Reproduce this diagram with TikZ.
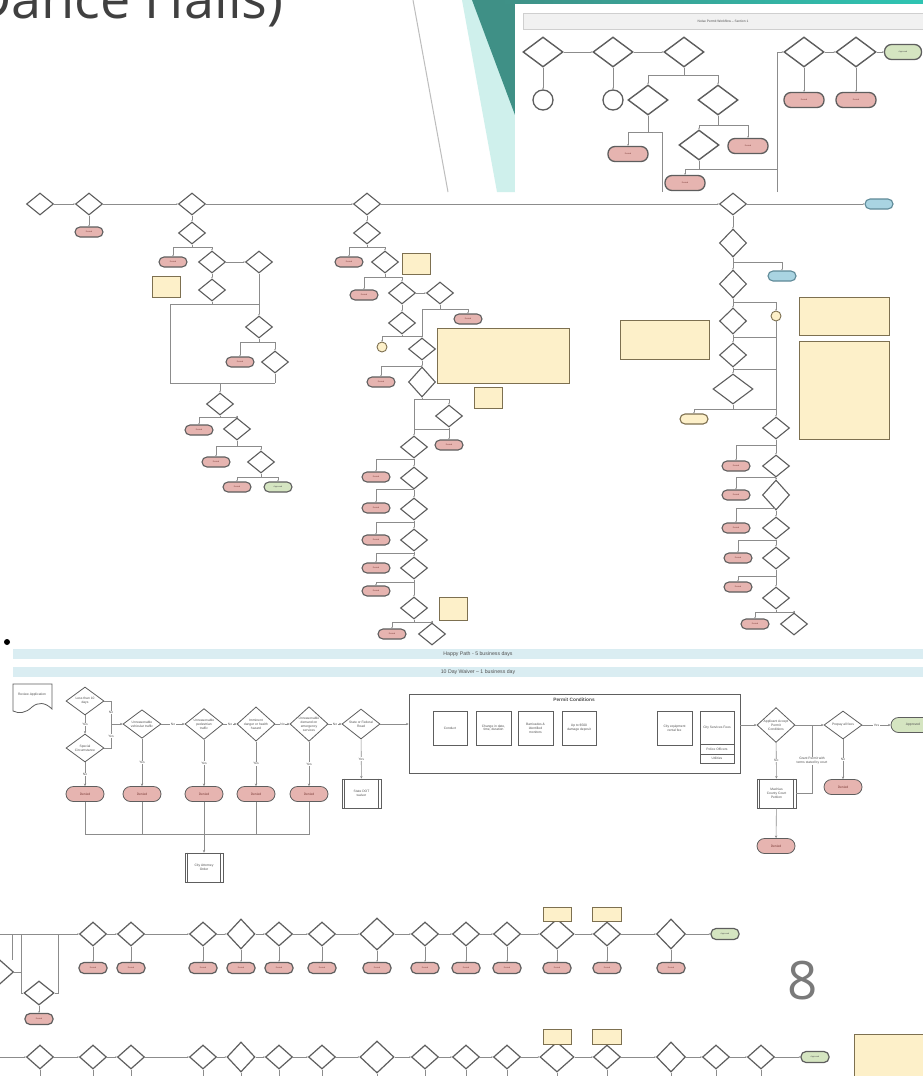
\documentclass[tikz,border=0pt]{standalone}
\usepackage{fontspec}
\setmainfont{Liberation Sans}
\newfontfamily\titlefont{Open Sans}
\usetikzlibrary{shapes.geometric,arrows.meta}
\definecolor{tealA}{HTML}{3F9086}
\definecolor{tealB}{HTML}{2EC4B2}
\definecolor{cyanl}{HTML}{CFF0EC}
\definecolor{grayl}{HTML}{BDBDBD}
\definecolor{linec}{HTML}{8C8C8C}
\definecolor{shapec}{HTML}{5E5E5E}
\definecolor{denf}{HTML}{E6B4B0}
\definecolor{dent}{HTML}{7A3A36}
\definecolor{appf}{HTML}{D5E5C1}
\definecolor{bluef}{HTML}{A9D4E2}
\definecolor{bluec}{HTML}{5F8A98}
\definecolor{notef}{HTML}{FDF0C9}
\definecolor{notec}{HTML}{7D7050}
\definecolor{barf}{HTML}{DAEDF2}
\definecolor{hdrf}{HTML}{F1F1F1}
\definecolor{hdrc}{HTML}{CFCFCF}
\definecolor{titlec}{HTML}{404040}
\definecolor{txtc}{HTML}{505050}
\definecolor{pagec}{HTML}{7A7A7A}
\newcommand\fzA{\fontsize{2}{2.4}\selectfont}
\newcommand\fzB{\fontsize{3.3}{3.9}\selectfont}
\newcommand\fzC{\fontsize{5.2}{6}\selectfont}
\tikzset{
  conn/.style={draw=linec, line width=0.6pt},
  arr/.style={conn, -{Stealth[length=2.6pt,width=2.4pt]}},
  tarr/.style={conn, -{Stealth[length=1.6pt,width=1.5pt]}},
  sdia/.style={diamond, draw=shapec, fill=white, line width=1.4pt, minimum width=40pt, minimum height=30pt, inner sep=0pt},
  sden/.style={rectangle, rounded corners=7pt, draw=shapec, fill=denf, line width=1.3pt, minimum width=40pt, minimum height=15pt, inner sep=0pt, font=\fzA, text=dent},
  sapp/.style={sden, fill=appf, text=txtc},
  scirc/.style={circle, draw=shapec, fill=white, line width=1.3pt, minimum size=20pt, inner sep=0pt, font=\fzA, text=txtc},
  adia/.style={diamond, draw=shapec, fill=white, line width=1.1pt, minimum width=27pt, minimum height=22pt, inner sep=0pt},
  aden/.style={rectangle, rounded corners=5pt, draw=shapec, fill=denf, line width=1.1pt, minimum width=28pt, minimum height=10pt, inner sep=0pt, font=\fzA, text=dent},
  aapp/.style={aden, fill=appf, text=txtc},
  ablue/.style={aden, fill=bluef, draw=bluec, text=txtc},
  ayel/.style={aden, fill=notef, draw=notec, text=txtc},
  anote/.style={rectangle, draw=notec, fill=notef, line width=1pt, inner sep=0pt},
  acirc/.style={circle, draw=notec, fill=notef, line width=0.9pt, minimum size=10pt, inner sep=0pt},
  fdia/.style={diamond, draw=shapec, fill=white, line width=0.8pt, minimum width=38pt, minimum height=28pt, inner sep=0pt, font=\fzB, text=txtc, align=center},
  fden/.style={rectangle, rounded corners=7.5pt, draw=shapec, fill=denf, line width=0.8pt, minimum width=38pt, minimum height=15pt, inner sep=0pt, font=\fzB, text=dent},
  fapp/.style={fden, fill=appf, text=txtc},
  fbox/.style={rectangle, draw=shapec, fill=white, line width=0.8pt, inner sep=0pt, font=\fzB, text=txtc, align=center},
  lbl/.style={fill=white, inner sep=0.6pt, font=\fzB, text=txtc, align=center},
  cdia/.style={diamond, draw=shapec, fill=white, line width=1.2pt, minimum width=27pt, minimum height=24pt, inner sep=0pt},
  cden/.style={rectangle, rounded corners=5pt, draw=shapec, fill=denf, line width=1.2pt, minimum width=28pt, minimum height=11pt, inner sep=0pt, font=\fzA, text=dent},
  capp/.style={cden, fill=appf, text=txtc},
}
\begin{document}
\begin{tikzpicture}[x=1pt,y=-1pt]
\useasboundingbox (0,0) rectangle (923,1076);
\clip (0,0) rectangle (923,1076);
\fill[white] (0,0) rectangle (923,1076);

% ---------- title and slide decoration ----------
\node[anchor=base west, inner sep=0pt, font=\titlefont\fontsize{54}{60}\selectfont, text=titlec] (title) at (-28,18) {Dance Halls)};
\draw[grayl, line width=1pt] (413,0) -- (448,192);
\fill[cyanl] (462,0) -- (515,0) -- (515,192) -- (497,192) -- cycle;
\fill[tealA] (472,0) -- (515,0) -- (515,115) -- cycle;
\shade[left color=tealA, right color=tealB] (500,0) rectangle (923,3.5);
\fill[white] (515,3.5) rectangle (923,192);

% ---------- screenshot (top right) ----------
\node[draw=hdrc, fill=hdrf, line width=0.8pt, minimum width=400pt, minimum height=16pt, inner sep=0pt, font=\fzB, text=txtc] (shdr) at (723,21) {Noise Permit Workflow -- Section 1};
\node[sdia] (s1) at (543,52) {};
\node[sdia] (s2) at (613,52) {};
\node[sdia] (s3) at (684,52) {};
\node[sdia] (s4) at (804,52) {};
\node[sdia] (s5) at (856,52) {};
\node[sapp, minimum width=37pt] (sapv) at (903,52) {Approved};
\node[scirc] (sc1) at (543,100) {};
\node[scirc] (sc2) at (613,100) {};
\node[sdia] (s6) at (648,100) {};
\node[sdia] (s7) at (718,100) {};
\node[sden] (sd1) at (628,154) {Denied};
\node[sdia] (s8) at (699,145) {};
\node[sden] (sd2) at (748,146) {Denied};
\node[sden] (sd3) at (685,183) {Denied};
\node[sden] (sd4) at (804,100) {Denied};
\node[sden] (sd5) at (856,100) {Denied};
\coordinate (sb1) at (662,192);
\coordinate (sb2) at (777,192);
\draw[tarr] (s1) -- (s2);
\draw[tarr] (s2) -- (s3);
\draw[tarr] (s1) -- (sc1);
\draw[tarr] (s2) -- (sc2);
\draw[tarr] (s3.south) -- (684,75) -| (s6.north);
\draw[tarr] (684,75) -| (s7.north);
\draw[tarr] (s6.south) -- (648,132) -| (sd1.north);
\draw[conn] (648,132) -| (sb1);
\draw[tarr] (s7.south) -- (718,125) -| (s8.north);
\draw[tarr] (718,125) -| (sd2.north);
\draw[tarr] (s8.south) -- (699,169) -| (sd3.north);
\draw[conn] (699,169) -- (777,169);
\draw[tarr] (sb2) -- (777,52) -- (s4.west);
\draw[tarr] (s4) -- (s5);
\draw[tarr] (s5) -- (sapv);
\draw[tarr] (s4) -- (sd4);
\draw[tarr] (s5) -- (sd5);

% ---------- flowchart 1 ----------
\node[adia] (a1) at (40,204) {};
\node[adia] (a2) at (89,204) {};
\node[adia] (a3) at (192,204) {};
\node[adia] (a4) at (367,204) {};
\node[adia] (a5) at (733,204) {};
\node[ablue] (aend) at (879,204) {};
\node[aden] (a2d) at (89,232) {Denied};
\draw[tarr] (a1) -- (a2);
\draw[tarr] (a2) -- (a3);
\draw[tarr] (a3) -- (a4);
\draw[tarr] (a4) -- (a5);
\draw[tarr] (a5) -- (aend);
\draw[tarr] (a2) -- (a2d);

% column under a3
\node[adia] (b1) at (192,233) {};
\node[aden] (b1d) at (173,262) {Denied};
\node[adia] (b2) at (212,262) {};
\node[adia] (b3) at (259,262) {};
\node[anote, minimum width=28pt, minimum height=21pt] (bnote) at (166,287) {};
\node[adia] (b4) at (212,290) {};
\node[adia] (b5) at (259,327) {};
\node[aden] (b5d) at (240,362) {Denied};
\node[adia] (b6) at (275,362) {};
\node[adia] (b7) at (220,404) {};
\node[aden] (b7d) at (199,430) {Denied};
\node[adia] (b8) at (237,429) {};
\node[aden] (b8d) at (216,462) {Denied};
\node[adia] (b9) at (261,462) {};
\node[aden] (b9d) at (237,487) {Denied};
\node[aapp] (bapp) at (278,487) {Approved};
\coordinate (bj1) at (170,304);
\coordinate (bj2) at (170,383);
\draw[tarr] (a3) -- (b1);
\draw[tarr] (b1.south) -- (192,247) -| (b1d.north);
\draw[tarr] (192,247) -| (b2.north);
\draw[tarr] (b2) -- (b3);
\draw[tarr] (b2) -- (b4);
\draw[conn] (b4.south) -- (212,304);
\draw[conn] (bj1) -- (259,304);
\draw[tarr] (b3) -- (b5);
\draw[conn] (bj1) -- (bj2) -- (275,383);
\draw[conn] (b6.south) -- (275,383);
\draw[tarr] (220,383) -- (b7.north);
\draw[tarr] (b5.south) -- (259,342) -| (b5d.north);
\draw[tarr] (259,342) -| (b6.north);
\draw[tarr] (b7.south) -- (220,417) -| (b7d.north);
\draw[tarr] (220,417) -| (b8.north);
\draw[tarr] (b8.south) -- (237,446) -| (b8d.north);
\draw[tarr] (237,446) -| (b9.north);
\draw[tarr] (b9.south) -- (261,477) -| (b9d.north);
\draw[tarr] (261,477) -| (bapp.north);

% column under a4
\node[adia] (c1) at (367,233) {};
\node[aden] (c1d) at (349,262) {Denied};
\node[adia] (c2) at (385,262) {};
\node[anote, minimum width=28pt, minimum height=21pt] (cnote) at (416,264) {};
\node[aden] (c3d) at (364,295) {Denied};
\node[adia] (c3) at (402,293) {};
\node[adia] (c4) at (440,293) {};
\node[aden] (c4d) at (468,319) {Denied};
\node[adia] (c5) at (402,323) {};
\node[acirc] (ccirc) at (382,347) {};
\node[adia] (c6) at (422,349) {};
\node[aden] (c7d) at (381,382) {Denied};
\node[adia, minimum height=30pt] (c7) at (422,382) {};
\node[anote, minimum width=132pt, minimum height=55pt] (cbig) at (503,355.5) {};
\node[anote, minimum width=28pt, minimum height=21pt] (csmall) at (488,397.5) {};
\node[adia] (c8) at (449,416) {};
\node[aden] (c8d) at (449,445) {Denied};
\node[anote, minimum width=28pt, minimum height=23pt] (cnote3) at (453,608.5) {};
\draw[tarr] (a4) -- (c1);
\draw[tarr] (c1.south) -- (367,247) -| (c1d.north);
\draw[tarr] (367,247) -| (c2.north);
\draw[tarr] (c2.south) -- (385,277) -| (c3d.north);
\draw[tarr] (385,277) -| (c3.north);
\draw[tarr] (c3) -- (c4);
\draw[tarr] (c4.south) -- (440,309) -| (c4d.north);
\draw[conn] (440,309) -- (422,309) -- (422,336);
\draw[tarr] (c3) -- (c5);
\draw[tarr] (c5.south) -- (402,336) -| (ccirc.north);
\draw[tarr] (402,336) -| (c6.north);
\draw[tarr] (c6) -- (c7);
\draw[tarr] (422,366) -| (c7d.north);
\draw[tarr] (c7.south) -- (422,399) -| (c8.north);
\draw[conn] (422,399) -| (414,429);
\draw[tarr] (c8) -- (c8d);
\draw[conn] (449,429) -- (414,429);
\foreach \y/\n in {447/1,478/2,509/3,540/4,568/5,608/6} {
  \node[adia] (e\n) at (414,\y) {};
}
\node[adia] (e7) at (432,634) {};
\foreach \y/\n in {477/1,508/2,540/3,568/4,591/5} {
  \node[aden] (f\n) at (376,\y) {Denied};
}
\node[aden] (f6) at (392,634) {Denied};
\draw[tarr] (414,429) -- (e1.north);
\foreach \a/\b/\yy in {1/2/459,2/3/489,3/4/522,4/5/553,5/6/582} {
  \draw[tarr] (e\a) -- (e\b);
  \draw[tarr] (414,\yy) -| (f\a.north);
}
\draw[tarr] (e6.south) -- (414,622) -| (f6.north);
\draw[tarr] (414,622) -| (e7.north);

% column under a5
\node[adia, minimum height=28pt] (g1) at (733,243) {};
\node[ablue] (gblue) at (782,276) {};
\node[adia, minimum height=28pt] (g2) at (733,284) {};
\node[acirc] (gcirc) at (776,316) {};
\node[adia, minimum height=26pt] (g3) at (733,321) {};
\node[adia, minimum height=24pt] (g4) at (733,355) {};
\node[adia, minimum width=40pt, minimum height=30pt] (g5) at (733,389) {};
\node[ayel] (gyel) at (694,419) {};
\node[anote, minimum width=89pt, minimum height=39pt] (gn1) at (664.5,339.5) {};
\node[anote, minimum width=90pt, minimum height=38pt] (gn2) at (844,316) {};
\node[anote, minimum width=90pt, minimum height=98pt] (gn3) at (844,390) {};
\draw[tarr] (a5) -- (g1);
\draw[tarr] (g1.south) -- (733,262) -| (gblue.north);
\draw[tarr] (g1) -- (g2);
\draw[tarr] (g2.south) -- (733,302) -| (gcirc.north);
\draw[tarr] (g2) -- (g3);
\draw[conn] (g3.south) -- (733,337) -- (776,337);
\draw[tarr] (g3) -- (g4);
\draw[conn] (g4.south) -- (733,369) -- (776,369);
\draw[tarr] (g4) -- (g5);
\draw[tarr] (g5.south) -- (733,409) -| (gyel.north);
\draw[conn] (733,409) -- (776,409);
\node[adia] (h1) at (776,428) {};
\node[adia] (h2) at (776,466) {};
\node[adia, minimum height=30pt] (h3) at (776,495) {};
\node[adia] (h4) at (776,528) {};
\node[adia] (h5) at (776,558) {};
\node[adia] (h6) at (776,598) {};
\node[adia] (h7) at (794,624) {};
\node[aden] (hd1) at (736,466) {Denied};
\node[aden] (hd2) at (736,495) {Denied};
\node[aden] (hd3) at (736,528) {Denied};
\node[aden] (hd4) at (738,558) {Denied};
\node[aden] (hd5) at (738,587) {Denied};
\node[aden] (hd6) at (755,624) {Denied};
\draw[tarr] (gcirc) -- (h1);
\foreach \a/\b/\yy in {1/2/445,2/3/477,3/4/508,4/5/540,5/6/576} {
  \draw[tarr] (h\a) -- (h\b);
  \draw[tarr] (776,\yy) -| (hd\a.north);
}
\draw[tarr] (h6.south) -- (776,612) -| (hd6.north);
\draw[tarr] (776,612) -| (h7.north);

% ---------- bullet ----------
\fill[black] (7,642) circle (3pt);

% ---------- flowchart 2 ----------
\node[fill=barf, minimum width=910pt, minimum height=10pt, inner sep=0pt] (hp) at (468,654) {};
\node[font=\fzC, text=txtc, inner sep=0pt] (hpt) at (478,654) {Happy Path - 5 business days};
\node[fill=barf, minimum width=910pt, minimum height=10pt, inner sep=0pt] (wv) at (468,672) {};
\node[font=\fzC, text=txtc, inner sep=0pt] (wvt) at (478,672) {10 Day Waiver -- 1 business day};

\draw[shapec, line width=0.8pt, fill=white] (13,684) -- (52,684) -- (52,709) .. controls (45,702) and (38,702) .. (32,707) .. controls (26,713) and (19,714) .. (13,711) -- cycle;
\node[font=\fzB, text=txtc, inner sep=0pt] (rev) at (32,695) {Review Application};

\node[fdia] (q1) at (85,701) {Less than 10\\days};
\node[fdia] (q2) at (85,748) {Special\\Circumstance};
\node[fdia] (q3) at (142,724) {Unreasonable\\vehicular traffic};
\node[fdia] (q4) at (204,724) {Unreasonable\\pedestrian\\traffic};
\node[fdia] (q5) at (256,724) {Imminent\\danger or health\\hazard};
\node[fdia, minimum height=34pt] (q6) at (309,724) {Unreasonable\\demand on\\emergency\\services};
\node[fdia] (q7) at (361,724) {State or Federal\\Road};
\node[fden] (r1) at (85,794) {Denied};
\node[fden] (r2) at (142,794) {Denied};
\node[fden] (r3) at (204,794) {Denied};
\node[fden] (r4) at (256,794) {Denied};
\node[fden] (r5) at (309,794) {Denied};
\node[fbox, minimum width=39pt, minimum height=29pt] (dot) at (361.5,793.5) {State DOT\\waiver};
\node[fbox, minimum width=38pt, minimum height=29pt] (cao) at (204,867.5) {City Attorney\\Order};
\foreach \nn in {dot,cao} {
  \draw[shapec, line width=0.8pt] ([xshift=3pt]\nn.north west) -- ([xshift=3pt]\nn.south west);
  \draw[shapec, line width=0.8pt] ([xshift=-3pt]\nn.north east) -- ([xshift=-3pt]\nn.south east);
}
\coordinate (j1) at (111,724);
\draw[conn] (q1.east) -| node[lbl, pos=0.75] {No} (j1);
\draw[conn] (q2.east) -| node[lbl, pos=0.75] {Yes} (j1);
\draw[arr] (j1) -- (q3.west);
\draw[arr] (q1) -- node[lbl] {Yes} (q2);
\draw[arr] (q2) -- node[lbl] {No} (r1);
\draw[arr] (q3) -- node[lbl] {No} (q4);
\draw[arr] (q4) -- node[lbl] {No} (q5);
\draw[arr] (q5) -- node[lbl] {No} (q6);
\draw[arr] (q6) -- node[lbl] {No} (q7);
\draw[arr] (q3) -- node[lbl] {Yes} (r2);
\draw[arr] (q4) -- node[lbl] {Yes} (r3);
\draw[arr] (q5) -- node[lbl] {Yes} (r4);
\draw[arr] (q6) -- node[lbl] {Yes} (r5);
\draw[arr] (q7) -- node[lbl] {Yes} (dot);
\coordinate (j2) at (85,834);
\coordinate (j3) at (309,834);
\draw[conn] (r1.south) -- (j2) -- (j3) -- (r5.south);
\draw[conn] (r2.south) -- (142,834);
\draw[conn] (r4.south) -- (256,834);
\draw[arr] (r3) -- (cao);

% permit conditions
\node[fbox, fill=none, minimum width=331pt, minimum height=79pt] (pc) at (574.5,733.5) {};
\node[font=\fontsize{4.8}{5.6}\selectfont\bfseries, text=txtc, inner sep=0pt] (pct) at (574,700) {Permit Conditions};
\node[fbox, minimum width=34pt, minimum height=34pt] (k1) at (450,728) {Conduct};
\node[fbox, minimum width=35pt, minimum height=34pt] (k2) at (493.5,728) {Change in date,\\time, duration};
\node[fbox, minimum width=35pt, minimum height=34pt] (k3) at (535.5,728) {Barricades \&\\identified\\monitors};
\node[fbox, minimum width=34pt, minimum height=34pt] (k4) at (579,728) {Up to \$500\\damage deposit};
\node[fbox, minimum width=35pt, minimum height=34pt] (k5) at (674.5,728) {City equipment\\rental fee};
\node[fbox, minimum width=34pt, minimum height=33pt] (k6) at (717,727.5) {City Services Fees};
\node[fbox, minimum width=34pt, minimum height=10pt] (k7) at (717,749) {Police Officers};
\node[fbox, minimum width=34pt, minimum height=9pt] (k8) at (717,758.5) {Utilities};

\node[fdia, minimum height=30pt] (q8) at (776,725) {Applicant Accept\\Permit\\Conditions};
\node[fdia] (q9) at (843,725) {Prepay all fees};
\node[fapp, minimum width=44pt] (app2) at (913,725) {Approved};
\node[fbox, minimum width=39pt, minimum height=29pt] (mcp) at (776.5,793.5) {Machias\\County Court\\Petition};
\draw[shapec, line width=0.8pt] ([xshift=3pt]mcp.north west) -- ([xshift=3pt]mcp.south west);
\draw[shapec, line width=0.8pt] ([xshift=-3pt]mcp.north east) -- ([xshift=-3pt]mcp.south east);
\node[fden] (r6) at (776,846) {Denied};
\node[fden] (r7) at (843,787) {Denied};
\draw[arr] (q7.east) -- (q7.east -| pc.west);
\draw[arr] (pc.east |- q8) -- (q8.west);
\draw[arr] (q8) -- (q9);
\draw[arr] (q9) -- node[lbl] {Yes} (app2);
\draw[arr] (q8) -- node[lbl] {No} (mcp);
\draw[arr] (q9) -- node[lbl] {No} (r7);
\draw[arr] (mcp) -- (r6);
\draw[conn] (mcp.east) -- (812,793.5) -- (812,725);
\node[lbl] (grant) at (812,761) {Grant Permit with\\terms stated by court};

% ---------- flowchart 3 ----------
% row A
\foreach \x/\w/\h [count=\i] in {93/27/24,131/27/24,203/27/24,241/28/30,279/27/24,322/27/24,377/34/32,425/27/24,466/27/24,507/27/24,557/34/30,607/27/24,671/29/30} {
  \node[cdia, minimum width=\w pt, minimum height=\h pt] (t\i) at (\x,934) {};
  \node[cden] (u\i) at (\x,968) {Denied};
  \draw[tarr] (t\i) -- (u\i);
}
\foreach \i [evaluate=\i as \j using int(\i+1)] in {1,...,12} {
  \draw[tarr] (t\i) -- (t\j);
}
\node[capp] (appA) at (725,934) {Approved};
\draw[tarr] (t13) -- (appA);
\node[anote, minimum width=28pt, minimum height=14pt] (ny1) at (557,914) {};
\node[anote, minimum width=29pt, minimum height=14pt] (ny2) at (607,914) {};
\coordinate (lA) at (0,934);
\draw[tarr] (lA) -- (t1.west);
\node[cdia] (z0) at (0,972) {};
\node[cdia, minimum width=30pt] (z1) at (39,993) {};
\node[cden] (zd) at (39,1019) {Denied};
\draw[conn] (21,934) -- (21,993) -- (z1.west);
\draw[conn] (z1.east) -- (58,993) -- (58,934);
\draw[conn] (z0.east) -- (21,972);
\draw[conn] (12,934) -- (12,960);
\draw[tarr] (z1) -- (zd);
% row B
\foreach \x/\w/\h [count=\i] in {40/27/24,93/27/24,131/27/24,203/27/24,241/28/30,279/27/24,322/27/24,377/34/32,425/27/24,466/27/24,507/27/24,557/34/30,607/27/24,671/29/30,716/27/24,761/27/24} {
  \node[cdia, minimum width=\w pt, minimum height=\h pt] (v\i) at (\x,1057) {};
  \draw[conn] (v\i.south) -- ++(0,25);
}
\foreach \i [evaluate=\i as \j using int(\i+1)] in {1,...,15} {
  \draw[tarr] (v\i) -- (v\j);
}
\node[capp] (appB) at (815,1057) {Approved};
\draw[tarr] (v16) -- (appB);
\coordinate (lB) at (0,1057);
\draw[tarr] (lB) -- (v1.west);
\node[anote, minimum width=28pt, minimum height=15pt] (nz1) at (557,1037) {};
\node[anote, minimum width=29pt, minimum height=15pt] (nz2) at (607,1037) {};
\node[anote, minimum width=81pt, minimum height=56pt] (nbig) at (894.5,1062) {};

% page number
\node[font=\titlefont\fontsize{53}{60}\selectfont, text=pagec, inner sep=0pt] (pg) at (803,981) {8};
\end{tikzpicture}
\end{document}
